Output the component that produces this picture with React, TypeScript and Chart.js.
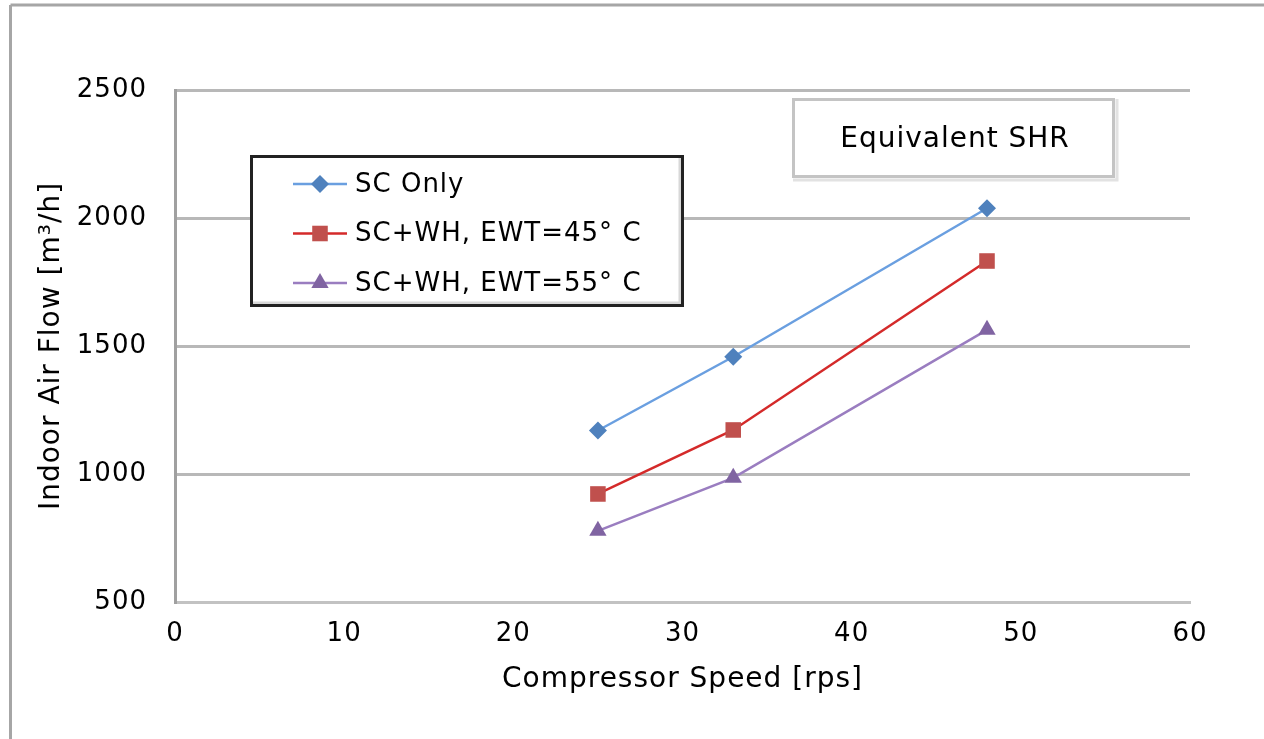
import { useEffect, useRef } from "react";
import { Chart, registerables } from "chart.js";

Chart.register(...registerables);

// ---- data ----
const compressorSpeed = [25, 33, 48];
const scOnly = [1170, 1458, 2038];
const scWh45 = [922, 1172, 1832];
const scWh55 = [778, 985, 1563];
const seriesLabels = ["SC Only", "SC+WH, EWT=45° C", "SC+WH, EWT=55° C"];
const xRange = [0, 60, 10];
const yRange = [500, 2500, 500];
const xTitle = "Compressor Speed [rps]";
const yTitle = "Indoor Air Flow [m³/h]";
const noteText = "Equivalent SHR";

const FONT = "'DejaVu Sans', sans-serif";

function drawMarker(ctx: CanvasRenderingContext2D, style: string, x: number, y: number, r: number, color: string) {
  ctx.save();
  ctx.fillStyle = color;
  ctx.beginPath();
  if (style === "rectRot") {
    ctx.moveTo(x, y - r);
    ctx.lineTo(x + r, y);
    ctx.lineTo(x, y + r);
    ctx.lineTo(x - r, y);
    ctx.closePath();
  } else if (style === "rect") {
    const s = r * Math.SQRT1_2;
    ctx.rect(x - s, y - s, 2 * s, 2 * s);
  } else {
    ctx.moveTo(x, y - r);
    ctx.lineTo(x + r * 0.866, y + r / 2);
    ctx.lineTo(x - r * 0.866, y + r / 2);
    ctx.closePath();
  }
  ctx.fill();
  ctx.restore();
}

const spacingPlugin = {
  id: "spacing",
  beforeLayout(chart: any) {
    (chart.ctx as any).letterSpacing = "1px";
  },
  beforeDraw(chart: any) {
    const ctx = chart.ctx as CanvasRenderingContext2D;
    (ctx as any).letterSpacing = "1px";
    ctx.save();
    ctx.fillStyle = "#ffffff";
    ctx.fillRect(0, 0, chart.width, chart.height);
    ctx.strokeStyle = "#a6a6a6";
    ctx.lineWidth = 3;
    ctx.beginPath();
    ctx.moveTo(10.5, 5);
    ctx.lineTo(chart.width, 5);
    ctx.moveTo(10.5, 5);
    ctx.lineTo(10.5, chart.height);
    ctx.stroke();
    ctx.restore();
  },
  afterDraw(chart: any) {
    const ctx = chart.ctx as CanvasRenderingContext2D;
    ctx.save();
    (ctx as any).letterSpacing = "1px";

    // note box
    ctx.fillStyle = "#ffffff";
    ctx.fillRect(792, 98, 323, 80);
    ctx.strokeStyle = "#e2e2e2";
    ctx.lineWidth = 3;
    ctx.beginPath();
    ctx.moveTo(1117, 99);
    ctx.lineTo(1117, 180);
    ctx.lineTo(793, 180);
    ctx.stroke();
    ctx.strokeStyle = "#c4c4c4";
    ctx.lineWidth = 3;
    ctx.strokeRect(793.5, 99.5, 320, 77);
    ctx.fillStyle = "#000";
    ctx.font = `28px ${FONT}`;
    ctx.textAlign = "center";
    ctx.textBaseline = "middle";
    ctx.fillText(noteText, 955, 140);

    // legend box
    ctx.fillStyle = "#ffffff";
    ctx.fillRect(250, 155, 434, 152);
    ctx.strokeStyle = "#d8d8d8";
    ctx.lineWidth = 3;
    ctx.beginPath();
    ctx.moveTo(680, 158);
    ctx.lineTo(680, 303);
    ctx.lineTo(253, 303);
    ctx.stroke();
    ctx.strokeStyle = "#222222";
    ctx.lineWidth = 3;
    ctx.strokeRect(251.5, 156.5, 431, 149);

    const ds = chart.data.datasets;
    ctx.font = `26px ${FONT}`;
    ctx.textAlign = "left";
    ctx.textBaseline = "middle";
    for (let i = 0; i < ds.length; i++) {
      const y = 184 + i * 49.5;
      ctx.strokeStyle = ds[i].borderColor;
      ctx.lineWidth = 2.5;
      ctx.beginPath();
      ctx.moveTo(293, y);
      ctx.lineTo(347, y);
      ctx.stroke();
      drawMarker(ctx, ds[i].pointStyle, 320, y, ds[i].pointRadius, ds[i].pointBackgroundColor);
      ctx.fillStyle = "#000";
      ctx.fillText(ds[i].label, 355, y + 1);
    }
    ctx.restore();
  },
};

export default function App() {
  const ref = useRef<HTMLCanvasElement>(null);

  useEffect(() => {
    if (!ref.current) return;
    const mk = (ys: number[]) => compressorSpeed.map((x, i) => ({ x, y: ys[i] }));
    const chart = new Chart(ref.current, {
      type: "scatter",
      data: {
        datasets: [
          {
            label: seriesLabels[0],
            data: mk(scOnly),
            showLine: true,
            borderColor: "#6a9fe0",
            borderWidth: 2.5,
            pointStyle: "rectRot",
            pointRadius: 9,
            pointBackgroundColor: "#4f81bd",
            pointBorderColor: "#4f81bd",
            pointBorderWidth: 0,
          },
          {
            label: seriesLabels[1],
            data: mk(scWh45),
            showLine: true,
            borderColor: "#d42a2a",
            borderWidth: 2.5,
            pointStyle: "rect",
            pointRadius: 11,
            pointBackgroundColor: "#c0504d",
            pointBorderColor: "#c0504d",
            pointBorderWidth: 0,
          },
          {
            label: seriesLabels[2],
            data: mk(scWh55),
            showLine: true,
            borderColor: "#9a7dc0",
            borderWidth: 2.5,
            pointStyle: "triangle",
            pointRadius: 10,
            pointBackgroundColor: "#8064a2",
            pointBorderColor: "#8064a2",
            pointBorderWidth: 0,
          },
        ],
      },
      options: {
        responsive: false,
        devicePixelRatio: 1,
        animation: false,
        layout: { padding: { left: 12, right: 74, top: 90, bottom: 0 } },
        plugins: {
          legend: { display: false },
          tooltip: { enabled: false },
        },
        scales: {
          x: {
            type: "linear",
            min: xRange[0],
            max: xRange[1],
            ticks: {
              stepSize: xRange[2],
              color: "#000",
              font: { family: FONT, size: 26 },
              padding: 17,
              callback: (v: any) => String(v),
            },
            grid: { display: false, drawTicks: false },
            border: { display: true, color: "#c2c2c2", width: 3 },
            title: {
              display: true,
              text: xTitle,
              color: "#000",
              font: { family: FONT, size: 28 },
              padding: { top: 0, bottom: 42 },
            },
            afterFit: (scale: any) => {
              scale.height = 137;
            },
          },
          y: {
            type: "linear",
            min: yRange[0],
            max: yRange[1],
            ticks: {
              stepSize: yRange[2],
              color: "#000",
              font: { family: FONT, size: 26 },
              padding: 28,
              callback: (v: any) => String(v),
            },
            grid: { color: "#b8b8b8", lineWidth: 3, drawTicks: false },
            border: { display: true, color: "#a0a0a0", width: 3 },
            title: {
              display: true,
              text: yTitle,
              color: "#000",
              font: { family: FONT, size: 28 },
              padding: { top: 23, bottom: 0 },
            },
            afterFit: (scale: any) => {
              scale.width = 163;
            },
          },
        },
      },
      plugins: [spacingPlugin],
    } as any);
    return () => chart.destroy();
  }, []);

  return (
    <canvas
      ref={ref}
      width={1264}
      height={739}
      style={{ position: "absolute", left: 0, top: 0, display: "block" }}
    />
  );
}
